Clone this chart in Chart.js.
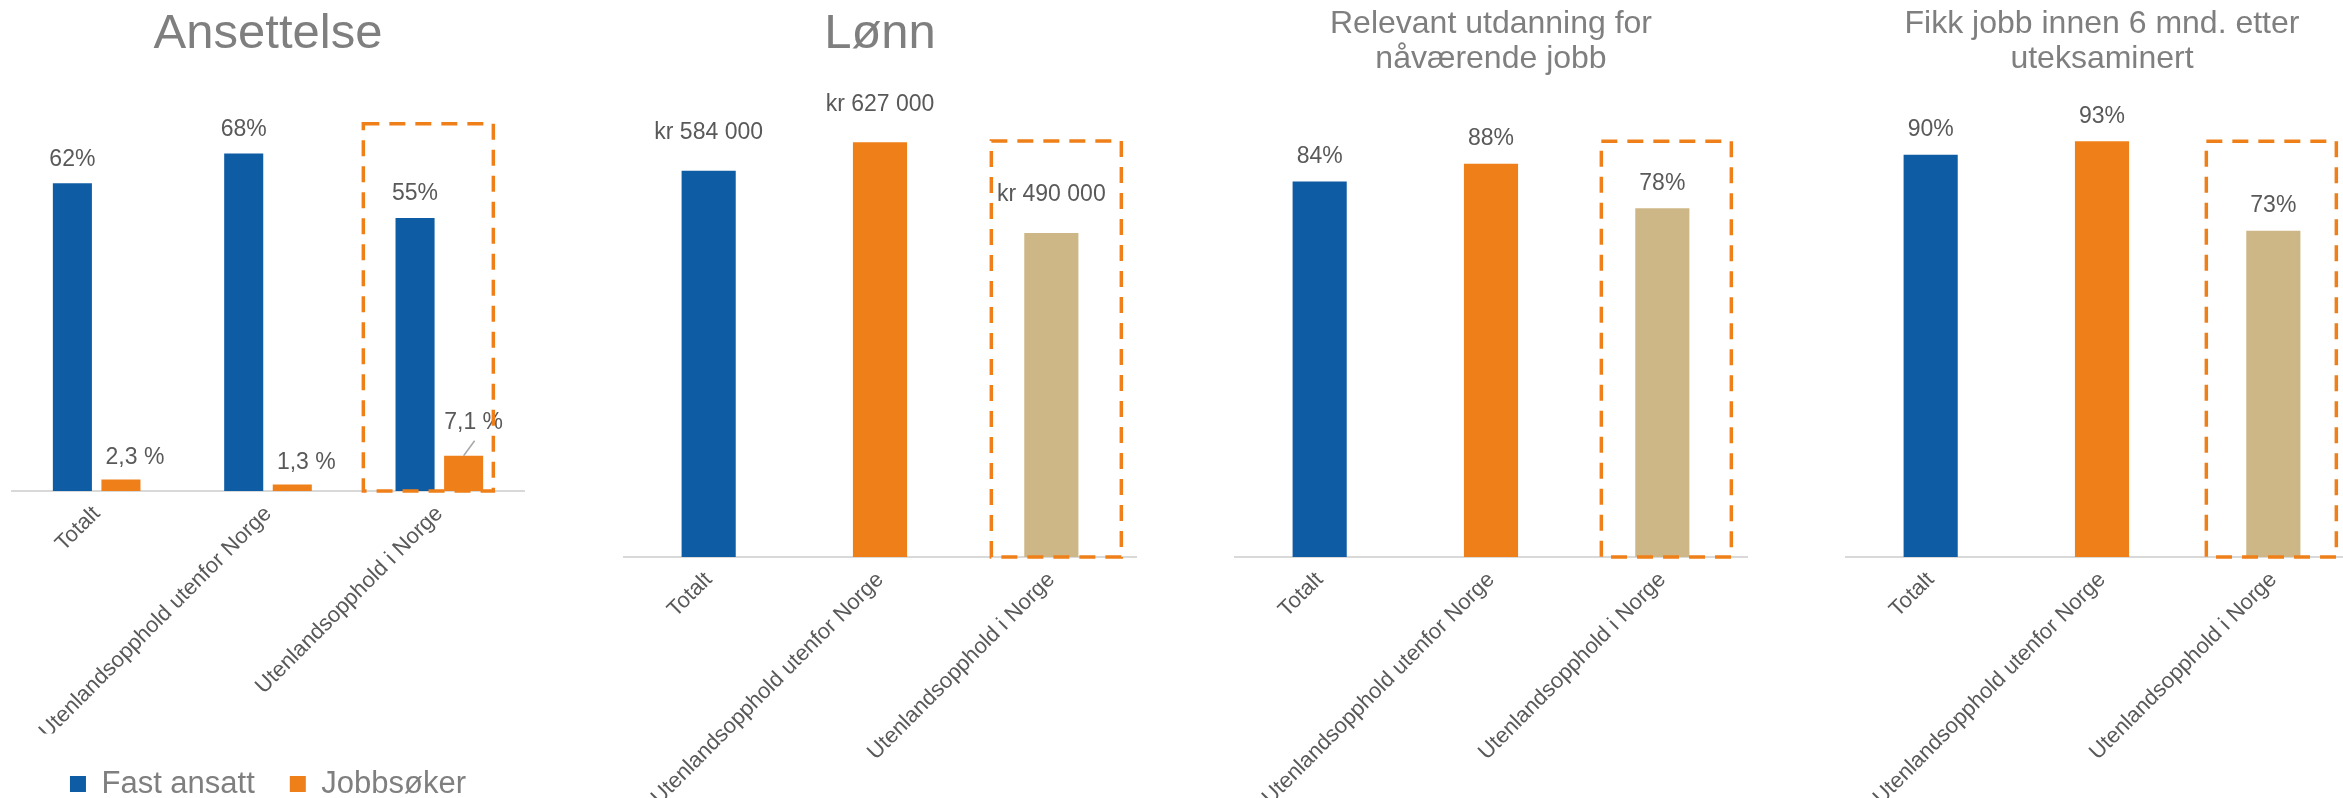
<!DOCTYPE html>
<html>
<head>
<meta charset="utf-8">
<title>Utenlandsopphold</title>
<script src="https://cdn.jsdelivr.net/npm/chart.js"></script>
<style>
  html, body { margin: 0; padding: 0; background: #fff; overflow: hidden; }
  body { width: 2343px; height: 798px; position: relative; }
  canvas { position: absolute; top: 0; }
</style>
</head>
<body>
<canvas id="c1" width="514" height="860" style="left:11px"></canvas>
<canvas id="c2" width="514" height="860" style="left:623px"></canvas>
<canvas id="c3" width="514" height="860" style="left:1234px"></canvas>
<canvas id="c4" width="514" height="860" style="left:1845px"></canvas>
<script>
const categories = ["Totalt", "Utenlandsopphold utenfor Norge", "Utenlandsopphold i Norge"];
const fastAnsatt = [0.62, 0.68, 0.55];
const jobbsoker = [0.023, 0.013, 0.071];
const lonn = [584000, 627000, 490000];
const relevantUtdanning = [0.84, 0.88, 0.78];
const jobbInnen6 = [0.90, 0.93, 0.73];

const BLUE = "#0E5CA4", ORANGE = "#EF8019", TAN = "#CEB787";
const FONT = '"Liberation Sans", Arial, sans-serif';
Chart.defaults.font.family = FONT;

const pct = v => Math.round(v * 100) + "%";
const pctDec = v => (v * 100).toFixed(1).replace(".", ",") + " %";
const kr = v => "kr " + String(v).replace(/\B(?=(\d{3})+(?!\d))/g, " ");

// value labels above the bars (gap/dx per dataset, optional callout with leader line)
function valueLabels(fmts, gaps, dxs, callout) {
  return {
    id: "valueLabels",
    afterDatasetsDraw(chart) {
      const ctx = chart.ctx;
      ctx.save();
      ctx.font = "23px " + FONT;
      ctx.fillStyle = "#595959";
      ctx.textAlign = "center";
      ctx.textBaseline = "middle";
      chart.data.datasets.forEach((ds, di) => {
        chart.getDatasetMeta(di).data.forEach((bar, i) => {
          let gap = gaps[di], dx = dxs[di];
          const isCallout = callout && callout.ds === di && callout.i === i;
          if (isCallout) { gap = callout.gap; dx = callout.dx; }
          const x = bar.x + dx, y = bar.y - gap;
          ctx.fillText(fmts[di](ds.data[i]), x, y);
          if (isCallout) {
            ctx.strokeStyle = "#A6A6A6";
            ctx.lineWidth = 1.5;
            ctx.beginPath();
            ctx.moveTo(x + 1, y + 18);
            ctx.lineTo(bar.x, bar.y);
            ctx.stroke();
          }
        });
      });
      ctx.restore();
    }
  };
}

// dashed orange box round one category
function highlightBox(index, dx, width, topValue) {
  return {
    id: "highlightBox",
    afterDatasetsDraw(chart) {
      const ctx = chart.ctx;
      const x = chart.scales.x.getPixelForValue(index) + dx - width / 2;
      const top = chart.scales.y.getPixelForValue(topValue);
      const bottom = chart.scales.y.getPixelForValue(0);
      ctx.save();
      ctx.strokeStyle = ORANGE;
      ctx.lineWidth = 3.5;
      ctx.setLineDash([16, 10]);
      ctx.strokeRect(x, top, width, bottom - top);
      ctx.restore();
    }
  };
}

function makeChart(id, cfg) {
  return new Chart(document.getElementById(id), {
    type: "bar",
    data: { labels: categories, datasets: cfg.datasets },
    options: {
      responsive: false,
      animation: false,
      events: [],
      layout: { padding: { top: 0, left: 0, right: 0, bottom: cfg.padBottom || 0 } },
      plugins: {
        title: {
          display: true,
          text: cfg.title,
          color: "#7F7F7F",
          font: { size: cfg.titleSize, weight: "normal", lineHeight: cfg.titleLine },
          padding: cfg.titlePad
        },
        legend: cfg.legend || { display: false },
        tooltip: { enabled: false }
      },
      scales: {
        x: {
          grid: { display: false, drawTicks: false },
          border: { display: true, color: "#D9D9D9", width: 2 },
          ticks: {
            color: "#595959", font: { size: 22 },
            minRotation: 45, maxRotation: 45, autoSkip: false, padding: 10
          },
          afterFit: s => { s.height = cfg.axisHeight; }
        },
        y: { display: false, min: 0, max: cfg.max }
      }
    },
    plugins: cfg.plugins
  });
}

makeChart("c1", {
  title: "Ansettelse", titleSize: 49, titleLine: 1.2, titlePad: { top: 4.6, bottom: 30.6 },
  max: 0.8, axisHeight: 242.5, padBottom: 50.5,
  datasets: [
    { label: "Fast ansatt", data: fastAnsatt, backgroundColor: BLUE, categoryPercentage: 0.567, barPercentage: 0.804 },
    { label: "Jobbsøker", data: jobbsoker, backgroundColor: ORANGE, categoryPercentage: 0.567, barPercentage: 0.804 }
  ],
  legend: {
    display: true, position: "bottom",
    labels: { color: "#7F7F7F", font: { size: 31 }, boxWidth: 16, boxHeight: 16, padding: 35 }
  },
  plugins: [
    valueLabels([pct, pctDec], [24, 22], [0, 14], { ds: 1, i: 2, gap: 33, dx: 10 }),
    highlightBox(2, -11, 130, 0.74)
  ]
});

makeChart("c2", {
  title: "Lønn", titleSize: 49, titleLine: 1.2, titlePad: { top: 4.6, bottom: 30.6 },
  max: 700000, axisHeight: 303,
  datasets: [
    { label: "Lønn", data: lonn, backgroundColor: [BLUE, ORANGE, TAN], categoryPercentage: 0.316, barPercentage: 1 }
  ],
  plugins: [valueLabels([kr], [38], [0]), highlightBox(2, 5, 130, 629000)]
});

makeChart("c3", {
  title: ["Relevant utdanning for", "nåværende jobb"], titleSize: 32, titleLine: "35px",
  titlePad: { top: 6.5, bottom: 33.5 },
  max: 1, axisHeight: 303,
  datasets: [
    { label: "Relevant utdanning", data: relevantUtdanning, backgroundColor: [BLUE, ORANGE, TAN], categoryPercentage: 0.316, barPercentage: 1 }
  ],
  plugins: [valueLabels([pct], [25], [0]), highlightBox(2, 4, 130, 0.93)]
});

makeChart("c4", {
  title: ["Fikk jobb innen 6 mnd. etter", "uteksaminert"], titleSize: 32, titleLine: "35px",
  titlePad: { top: 6.5, bottom: 33.5 },
  max: 1, axisHeight: 303,
  datasets: [
    { label: "Fikk jobb", data: jobbInnen6, backgroundColor: [BLUE, ORANGE, TAN], categoryPercentage: 0.316, barPercentage: 1 }
  ],
  plugins: [valueLabels([pct], [25], [0]), highlightBox(2, -2, 130, 0.93)]
});
</script>
</body>
</html>
